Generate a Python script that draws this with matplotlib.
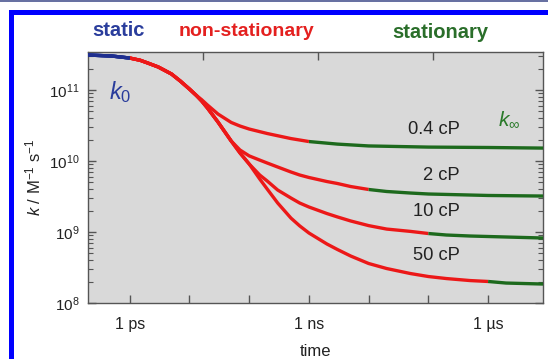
import matplotlib
matplotlib.use('Agg')
import numpy as np
import matplotlib.pyplot as plt
from matplotlib.ticker import LogLocator, FixedLocator, NullFormatter, NullLocator, FixedFormatter
from matplotlib.lines import Line2D

plt.rcParams['font.family'] = ['Liberation Sans', 'DejaVu Sans']
plt.rcParams['mathtext.fontset'] = 'custom'
plt.rcParams['mathtext.rm'] = 'Liberation Sans'
plt.rcParams['mathtext.it'] = 'Liberation Sans:italic'
plt.rcParams['mathtext.bf'] = 'Liberation Sans:bold'

# ---------------- data (time in ps, k in M^-1 s^-1) ----------------
shared_t = [0.2, 0.5, 1, 1.5, 2, 3, 5, 7, 10, 13]
shared_k = [3.11e11, 3.01e11, 2.82e11, 2.62e11, 2.40e11, 2.11e11, 1.68e11, 1.34e11, 1.03e11, 8.4e10]

c04_t = [16, 20, 30, 50, 70, 100, 200, 500, 1000, 3000, 1e4, 1e5, 1e6, 8.3e6]
c04_k = [7.3e10, 6.15e10, 4.59e10, 3.49e10, 3.11e10, 2.82e10, 2.44e10, 2.07e10, 1.88e10, 1.73e10,
         1.63e10, 1.57e10, 1.55e10, 1.52e10]

lower_t = [16, 20, 30, 50]
lower_k = [7.0e10, 5.57e10, 3.54e10, 1.91e10]

c2_t = [70, 100, 150, 200, 300, 500, 700, 1000, 2000, 3000, 5000, 1e4, 2e4, 5e4, 1e5, 1e6, 8.3e6]
c2_k = [1.43e10, 1.18e10, 1.03e10, 9.37e9, 8.23e9, 7.0e9, 6.35e9, 5.86e9, 5.14e9, 4.82e9, 4.37e9,
        3.97e9, 3.72e9, 3.54e9, 3.43e9, 3.27e9, 3.21e9]

band_t = [70, 100]
band_k = [1.30e10, 9.07e9]

c10_t = [150, 200, 300, 500, 700, 1000, 2000, 3000, 5000, 1e4, 2e4, 5e4, 1e5, 2e5, 5e5, 1e6, 8.3e6]
c10_k = [6.35e9, 5.23e9, 3.90e9, 3.01e9, 2.56e9, 2.25e9, 1.82e9, 1.63e9, 1.43e9, 1.23e9, 1.10e9,
         1.02e9, 9.52e8, 9.07e8, 8.78e8, 8.64e8, 8.23e8]

c50_t = [150, 200, 300, 500, 700, 1000, 2000, 3000, 5000, 1e4, 2e4, 5e4, 1e5, 2e5, 5e5, 1e6, 2e6, 8.3e6]
c50_k = [5.58e9, 4.03e9, 2.56e9, 1.57e9, 1.22e9, 9.68e8, 6.78e8, 5.67e8, 4.59e8, 3.60e8, 3.06e8,
         2.60e8, 2.36e8, 2.21e8, 2.07e8, 2.01e8, 1.91e8, 1.85e8]

viscosity_labels = ['0.4 cP', '2 cP', '10 cP', '50 cP']
static_end = 1.0                         # ps
stationary_start = [1e3, 1e4, 1e5, 1e6]  # ps, per curve

x_major = [1, 10, 100, 1e3, 1e4, 1e5, 1e6]
x_labels = ['1 ps', '', '', '1 ns', '', '', '1 \u00b5s']
x_top_ticks = [16.6, 1413, 1.2e5]
xlim = (0.2, 8.3e6)
ylim = (1e8, 3.43e11)

curves_t = [shared_t + c04_t,
            shared_t + lower_t + c2_t,
            shared_t + lower_t + band_t + c10_t,
            shared_t + lower_t + band_t + c50_t]
curves_k = [shared_k + c04_k,
            shared_k + lower_k + c2_k,
            shared_k + lower_k + band_k + c10_k,
            shared_k + lower_k + band_k + c50_k]

BLUE = '#1f2f8f'
RED = '#ec1818'
GREEN = '#1d6a1d'

fig = plt.figure(figsize=(5.48, 3.59), dpi=100)
L, R, T, B = 88, 543, 52, 303
W, H = 548, 359
ax = fig.add_axes([L / W, 1 - B / H, (R - L) / W, (B - T) / H])
ax.set_facecolor('#d9d9d9')

lw = 2.4
for t, k, gs in zip(curves_t, curves_k, stationary_start):
    t = np.array(t); k = np.array(k)
    m_red = (t >= static_end) & (t <= gs)
    ax.plot(t[m_red], k[m_red], color=RED, lw=lw, solid_capstyle='butt', solid_joinstyle='round', zorder=3)
    m_g = t >= gs
    ax.plot(t[m_g], k[m_g], color=GREEN, lw=lw, solid_capstyle='butt', solid_joinstyle='round', zorder=4)
    m_b = t <= static_end
    ax.plot(t[m_b], k[m_b], color=BLUE, lw=lw, solid_capstyle='butt', solid_joinstyle='round', zorder=4)

ax.set_xscale('log')
ax.set_yscale('log')
ax.set_xlim(*xlim)
ax.set_ylim(*ylim)

ax.xaxis.set_major_locator(FixedLocator(x_major))
ax.xaxis.set_major_formatter(FixedFormatter(x_labels))
ax.xaxis.set_minor_locator(NullLocator())
ax.yaxis.set_major_locator(LogLocator(base=10, numticks=10))
ax.yaxis.set_minor_locator(LogLocator(base=10, subs=np.arange(2, 10), numticks=20))
ax.yaxis.set_minor_formatter(NullFormatter())

spine_c = '#555555'
for s in ax.spines.values():
    s.set_color(spine_c)
    s.set_linewidth(1.0)
ax.tick_params(axis='x', which='major', direction='in', length=6, width=1.0, color=spine_c,
               labelsize=11.5, labelcolor='#222222', pad=10, top=False)
ax.tick_params(axis='y', which='major', direction='in', length=6, width=1.0, color=spine_c,
               labelsize=11, labelcolor='#222222', right=True, pad=6)
ax.tick_params(axis='y', which='minor', direction='in', length=3.5, width=0.8, color=spine_c,
               right=True)

ax2 = ax.twiny()
ax2.set_xscale('log')
ax2.set_xlim(*xlim)
ax2.xaxis.set_major_locator(FixedLocator(x_top_ticks))
ax2.xaxis.set_minor_locator(NullLocator())
ax2.xaxis.set_major_formatter(NullFormatter())
ax2.tick_params(axis='x', direction='in', length=6, width=1.0, color=spine_c)
for s in ax2.spines.values():
    s.set_visible(False)

ax.set_xlabel('time', fontsize=12, color='#222222', labelpad=9)
ax.set_ylabel(r'$k$ / M$^{-1}$ s$^{-1}$', fontsize=12, color='#222222', labelpad=4)

# region headers
fig.text(118 / W, 1 - 31 / H, 'static', color='#2a3d9c', fontsize=14.5, fontweight='bold',
         ha='center', va='center')
fig.text(246 / W, 1 - 31 / H, 'non-stationary', color='#e4201f', fontsize=14, fontweight='bold',
         ha='center', va='center')
fig.text(440 / W, 1 - 32 / H, 'stationary', color='#2a6e2a', fontsize=14.5, fontweight='bold',
         ha='center', va='center')

def axfrac(px, py):
    return ((px - L) / (R - L), (B - py) / (B - T))

ax.text(*axfrac(109, 92), r'$k_0$', transform=ax.transAxes, color='#2a3d9c', fontsize=17,
        ha='left', va='center')
ax.text(*axfrac(498, 120), r'$k_\infty$', transform=ax.transAxes, color='#2a7a2a', fontsize=15,
        ha='left', va='center')
label_y = [130, 175, 212, 255]
for lab, py in zip(viscosity_labels, label_y):
    ax.text(*axfrac(460, py), lab, transform=ax.transAxes, color='#222222', fontsize=13.2,
            ha='right', va='center')

# blue frame (left and top edges visible)
fx = 10.5 / W
fy = 1 - 12 / H
fig.lines.append(Line2D([fx, fx], [-0.05, fy], transform=fig.transFigure,
                        color='#0000ff', linewidth=3.6, solid_capstyle='projecting'))
fig.lines.append(Line2D([fx, 1.05], [fy, fy], transform=fig.transFigure,
                        color='#0000ff', linewidth=3.6, solid_capstyle='projecting'))
fig.lines.append(Line2D([0, 1], [1 - 0.8 / H, 1 - 0.8 / H], transform=fig.transFigure,
                        color='#4a5590', linewidth=1.2))

fig.savefig('out.png', dpi=100, facecolor='white')
